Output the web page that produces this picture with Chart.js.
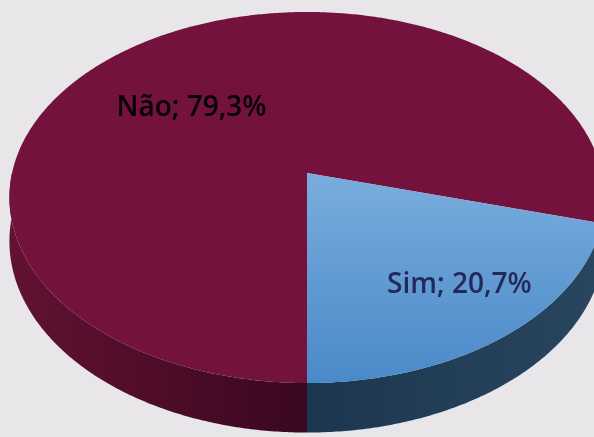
<!DOCTYPE html>
<html lang="pt-br">
<head>
    <meta charset="UTF-8">
    <title>Sim / Não</title>
    <script src="https://cdn.jsdelivr.net/npm/chart.js"></script>
    <style>
        html, body { margin: 0; padding: 0; background: #e8e6e9; overflow: hidden; }
        #grafico { display: block; }
    </style>
</head>
<body>
    <canvas id="grafico" width="594" height="437"></canvas>

<script>
    // dados
    const categorias = ['Não', 'Sim'];
    const percentuais = [79.3, 20.7];
    const rotulos = ['Não; 79,3%', 'Sim; 20,7%'];

    // cores: topo, lateral (esquerda -> frente -> direita)
    const corTopo = ['#73133d', ['#7aaddd', '#4a89c9']];
    const corLado = [['#621232', '#3a0720', '#3a0720'], ['#1d3650', '#1d3650', '#29465f']];
    const corRotulo = ['#050205', '#25295a'];

    // câmera da pizza 3D (raio = 1)
    const vista = { cx: 307, cy: 173, dist: 5.95, focal: 1755, sinB: 0.618, cosB: 0.786, espessura: 43 };
    const posRotulo = [{ desvio: -10, raio: 0.56 }, { desvio: -3, raio: 0.74 }];

    function projetar(a, r) {
        const u = r * Math.cos(a), v = r * Math.sin(a);
        const d = vista.dist - v * vista.cosB;
        return {
            x: vista.cx + vista.focal * u / d,
            y: vista.cy + vista.focal * v * vista.sinB / d,
            d: d
        };
    }

    // borda de baixo: a mesma borda empurrada para baixo
    function fundo(a) {
        const p = projetar(a, 1);
        return { x: p.x, y: p.y + vista.espessura * vista.dist / p.d };
    }

    function gradienteLado(ctx, cores) {
        const g = ctx.createLinearGradient(8, 0, 604, 0);
        g.addColorStop(0, cores[0]);
        g.addColorStop(0.5, cores[1]);
        g.addColorStop(1, cores[2]);
        return g;
    }

    const pizza3d = {
        id: 'pizza3d',
        beforeDatasetsDraw(chart) {
            const ctx = chart.ctx;
            const arcos = chart.getDatasetMeta(0).data;
            const passo = Math.PI / 360;

            ctx.save();
            // laterais (só a metade da frente aparece)
            arcos.forEach((arc, i) => {
                for (let k = -1; k <= 2; k++) {
                    const a0 = Math.max(arc.startAngle, k * 2 * Math.PI);
                    const a1 = Math.min(arc.endAngle, k * 2 * Math.PI + Math.PI);
                    if (a1 <= a0) continue;
                    ctx.beginPath();
                    for (let a = a0; a < a1; a += passo) {
                        const p = projetar(a, 1);
                        ctx.lineTo(p.x, p.y);
                    }
                    let p = projetar(a1, 1);
                    ctx.lineTo(p.x, p.y);
                    for (let a = a1; a > a0; a -= passo) {
                        p = fundo(a);
                        ctx.lineTo(p.x, p.y);
                    }
                    p = fundo(a0);
                    ctx.lineTo(p.x, p.y);
                    ctx.closePath();
                    ctx.fillStyle = gradienteLado(ctx, corLado[i]);
                    ctx.fill();
                }
            });

            // topo
            arcos.forEach((arc, i) => {
                const c = projetar(0, 0);
                ctx.beginPath();
                ctx.moveTo(c.x, c.y);
                for (let a = arc.startAngle; a < arc.endAngle; a += passo) {
                    const p = projetar(a, 1);
                    ctx.lineTo(p.x, p.y);
                }
                const p = projetar(arc.endAngle, 1);
                ctx.lineTo(p.x, p.y);
                ctx.closePath();
                if (Array.isArray(corTopo[i])) {
                    const g = ctx.createLinearGradient(0, c.y, 0, projetar(Math.PI / 2, 1).y);
                    g.addColorStop(0, corTopo[i][0]);
                    g.addColorStop(1, corTopo[i][1]);
                    ctx.fillStyle = g;
                } else {
                    ctx.fillStyle = corTopo[i];
                }
                ctx.fill();
            });
            ctx.restore();
            return false;
        },
        afterDraw(chart) {
            const ctx = chart.ctx;
            const arcos = chart.getDatasetMeta(0).data;
            ctx.save();
            ctx.font = '600 28px "Open Sans"';
            ctx.textAlign = 'center';
            ctx.textBaseline = 'alphabetic';
            arcos.forEach((arc, i) => {
                const meio = (arc.startAngle + arc.endAngle) / 2 + posRotulo[i].desvio * Math.PI / 180;
                const p = projetar(meio, posRotulo[i].raio);
                ctx.fillStyle = corRotulo[i];
                ctx.fillText(rotulos[i], p.x, p.y + 9);
            });
            ctx.restore();
        }
    };

    new Chart(document.getElementById('grafico'), {
        type: 'pie',
        data: {
            labels: categorias,
            datasets: [{
                data: percentuais,
                backgroundColor: ['#73133d', '#5b97d2'],
                borderWidth: 0
            }]
        },
        options: {
            responsive: false,
            animation: false,
            rotation: 180,
            events: [],
            plugins: {
                legend: { display: false },
                tooltip: { enabled: false }
            }
        },
        plugins: [pizza3d]
    });
</script>
</body>
</html>
